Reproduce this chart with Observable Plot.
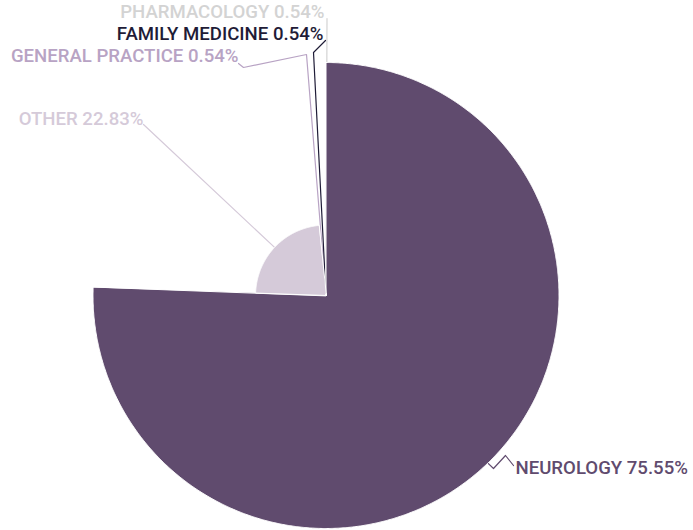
<!DOCTYPE html>
<html>
<head>
<meta charset="utf-8">
<script src="https://cdn.jsdelivr.net/npm/d3@7"></script>
<script src="https://cdn.jsdelivr.net/npm/@observablehq/plot@0.6"></script>
<style>
  html, body { margin: 0; padding: 0; background: #fff; }
  #chart svg { display: block; }
</style>
</head>
<body>
<div id="chart"></div>
<script>
// ---- data ----
const categories = ["NEUROLOGY", "OTHER", "GENERAL PRACTICE", "FAMILY MEDICINE", "PHARMACOLOGY"];
const values = [75.55, 22.83, 0.54, 0.54, 0.54];
const labels = ["NEUROLOGY 75.55%", "OTHER 22.83%", "GENERAL PRACTICE 0.54%", "FAMILY MEDICINE 0.54%", "PHARMACOLOGY 0.54%"];

// ---- styles ----
const sliceColors = ["#604b6e", "#d5cad9", "#b8a3c4", "#1f1c37", "#d3d3d3"];
const labelColors = ["#604b6e", "#d5cad9", "#b8a3c4", "#1f1c37", "#d3d3d3"];

// ---- layout (pixels relative to pie centre, y up) ----
const W = 693, H = 530;
const cx = 325.5, cy = 295;
const radiusPerUnit = 233 / 75.55;
const labelLayout = [
  {x: 189.5, y: -173, anchor: "start", path: [[167.5, -173], [179.5, -160], [187.5, -170]]},
  {x: -182.5, y: 176.5, anchor: "end", path: [[-182.5, 171]]},
  {x: -87.5, y: 239.5, anchor: "end", path: [[-19.5, 241], [-82.5, 228], [-87.5, 232]]},
  {x: -2.5, y: 261, anchor: "end", path: [[-12.5, 243], [-0.5, 255]]},
  {x: -1.5, y: 283, anchor: "end", path: [[1, 277]]}
];

// ---- build geometry from data ----
const total = d3.sum(values);
const slicePts = [];
const leaderPts = [];
const labelRows = [];
let cum = 0;
values.forEach((v, i) => {
  const a0 = cum / total * 2 * Math.PI;
  cum += v;
  const a1 = cum / total * 2 * Math.PI;
  const r = v * radiusPerUnit;
  const n = Math.max(2, Math.ceil((a1 - a0) / 0.005));
  slicePts.push({name: categories[i], x: 0, y: 0, color: sliceColors[i]});
  for (let k = 0; k <= n; k++) {
    const a = a0 + (a1 - a0) * k / n;
    slicePts.push({name: categories[i], x: r * Math.sin(a), y: r * Math.cos(a), color: sliceColors[i]});
  }
  const am = (a0 + a1) / 2;
  const L = labelLayout[i];
  leaderPts.push({name: categories[i], x: r * Math.sin(am), y: r * Math.cos(am), color: labelColors[i]});
  L.path.forEach(([px, py]) => leaderPts.push({name: categories[i], x: px, y: py, color: labelColors[i]}));
  labelRows.push({name: categories[i], text: labels[i], x: L.x, y: L.y, anchor: L.anchor, color: labelColors[i]});
});

const chart = Plot.plot({
  width: W,
  height: H,
  margin: 0,
  x: {domain: [-cx, W - cx], axis: null},
  y: {domain: [cy - H, cy], axis: null},
  color: {type: "identity"},
  style: {fontFamily: "Roboto, sans-serif", background: "#fff"},
  marks: [
    Plot.line(leaderPts, {x: "x", y: "y", z: "name", stroke: "color", strokeWidth: 1.2}),
    Plot.line(slicePts, {x: "x", y: "y", z: "name", fill: "color", stroke: "#fff", strokeWidth: 1, curve: "linear-closed"}),
    Plot.text(labelRows.filter(d => d.anchor === "end"), {x: "x", y: "y", text: "text", fill: "color", textAnchor: "end", fontSize: 18.6, fontWeight: 500}),
    Plot.text(labelRows.filter(d => d.anchor === "start"), {x: "x", y: "y", text: "text", fill: "color", textAnchor: "start", fontSize: 18.6, fontWeight: 500})
  ]
});
document.getElementById("chart").appendChild(chart);
</script>
</body>
</html>
